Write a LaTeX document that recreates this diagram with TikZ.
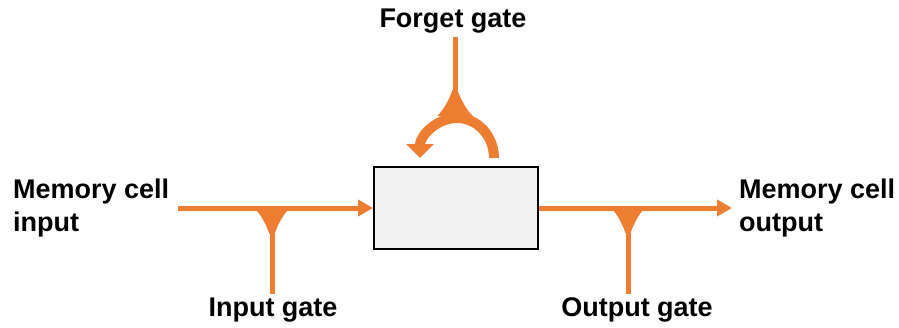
\documentclass[tikz,border=0pt]{standalone}
\usepackage{fontspec}
\setmainfont{Liberation Sans}
\usetikzlibrary{arrows.meta}
\definecolor{lstm}{RGB}{237,125,49}
\definecolor{cellfill}{RGB}{242,242,242}

\begin{document}
\begin{tikzpicture}[x=1pt, y=-1pt,
    lbl/.style={font=\fontsize{27}{33}\selectfont\bfseries, inner sep=4pt},
    wire/.style={draw=lstm, line width=5pt},
    funnel/.pic={\fill[lstm] (-2.5,0) .. controls (-6,-10) and (-12,-21) .. (-18,-26)
        -- (18,-26) .. controls (12,-21) and (6,-10) .. (2.5,0) -- cycle;},
    >={Triangle[width=16pt,length=15pt]}]
  \useasboundingbox (0,0) rectangle (899,327);
  \node[draw, line width=2pt, fill=cellfill, minimum width=164pt,
    minimum height=82pt] (cell) at (456,208) {};
  \node[lbl, align=left, anchor=west, inner xsep=9pt] (mcin) at (4,208) {Memory cell\\input};
  \node[lbl, align=left, anchor=west, inner xsep=7pt] (mcout) at (732,208) {Memory cell\\output};
  \node[lbl] (ig) at (273,310) {Input gate};
  \node[lbl] (og) at (637,310) {Output gate};
  \node[lbl] (fg) at (453,21) {Forget gate};
  \coordinate (igtip) at (272,234);
  \coordinate (ogtip) at (628,233);
  \coordinate (fgtip) at (455,90);
  % cell input and output
  \draw[wire,->] (mcin.east) -- (cell.west);
  \draw[wire,->] (cell.east) -- (mcout.west);
  % gates
  \draw[wire] (igtip |- ig.north) -- (igtip);
  \draw[wire] (ogtip |- og.north) -- (ogtip);
  \draw[wire] (fgtip |- fg.south) -- (fgtip);
  \pic at (igtip) {funnel};
  \pic at (ogtip) {funnel};
  \pic[yscale=-1] at (fgtip) {funnel};
  % recurrent loop
  \draw[draw=lstm, line width=10pt, -{Triangle[width=27pt,length=14pt]}]
    (494,158) arc[start angle=0, end angle=-180, x radius=37, y radius=40];
\end{tikzpicture}
\end{document}
